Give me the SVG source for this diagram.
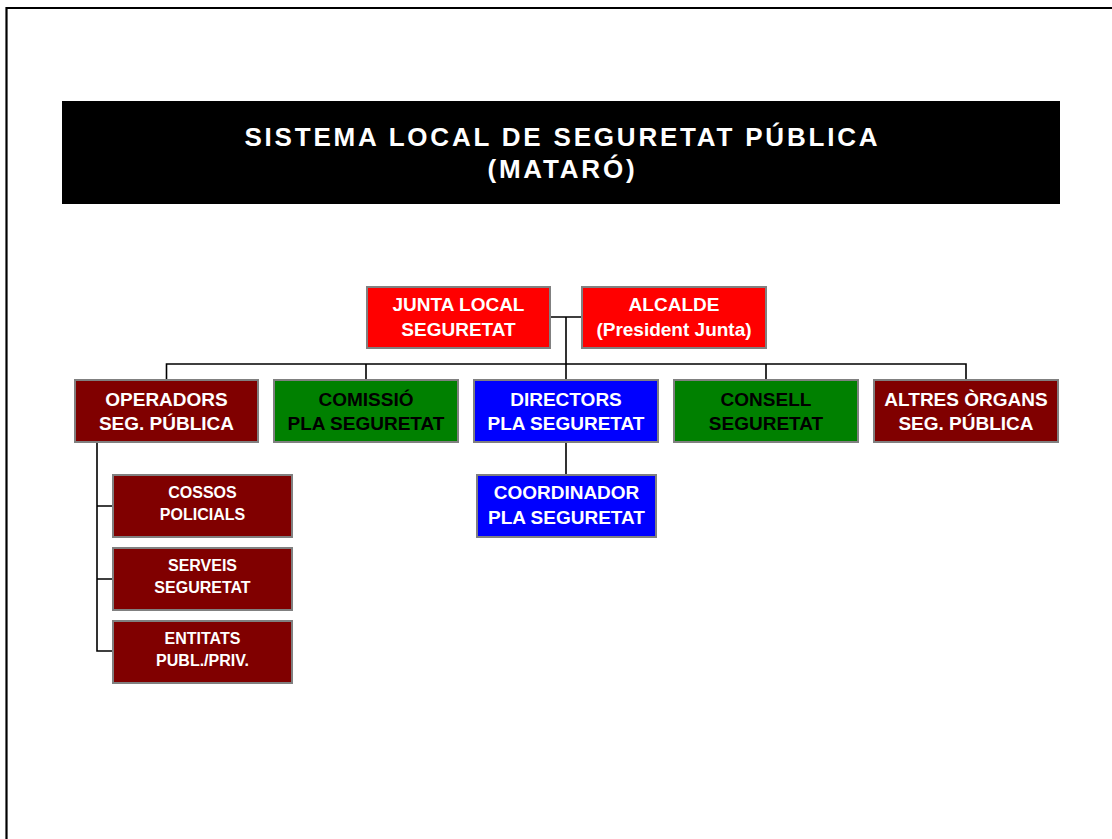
<svg xmlns="http://www.w3.org/2000/svg" width="1112" height="839" viewBox="0 0 1112 839">
<style>
text{font-family:"Liberation Sans",Arial,sans-serif;font-weight:bold;text-anchor:middle}
.box{stroke:#808080;stroke-width:2}
.red{fill:#ff0000}.dred{fill:#800000}.green{fill:#008000}.blue{fill:#0000ff}
.w{fill:#ffffff}.k{fill:#000000}
.t19{font-size:19px}.t16{font-size:16px}
.title{font-size:26px;letter-spacing:2.8px;fill:#ffffff}
.conn{stroke:#000;stroke-width:1.6;fill:none}
</style>
<rect width="1112" height="839" fill="#ffffff"/>
<path d="M6.5 839 V8 H1112" stroke="#000" stroke-width="2.2" fill="none"/>
<g id="title">
<rect x="62" y="101" width="998" height="103" fill="#000"/>
<text class="title" x="562.4" y="146">SISTEMA LOCAL DE SEGURETAT PÚBLICA</text>
<text class="title" x="562.4" y="178">(MATARÓ)</text>
</g>
<g id="connectors">
<path class="conn" d="M550 317 H582 M566 317 V380 M166.5 380 V364 H966 V380 M366 364 V380 M766 364 V380 M566 442 V475 M97 442 V651 H113 M97 506 H113 M97 579 H113"/>
</g>
<g id="junta">
<rect class="box red" x="367" y="287" width="183" height="61"/>
<text class="t19 w" x="458.5" y="311">JUNTA LOCAL</text>
<text class="t19 w" x="458.5" y="336">SEGURETAT</text>
</g>
<g id="alcalde">
<rect class="box red" x="582" y="287" width="184" height="61"/>
<text class="t19 w" x="674" y="311">ALCALDE</text>
<text class="t19 w" x="674" y="336">(President Junta)</text>
</g>
<g id="operadors">
<rect class="box dred" x="75" y="380" width="183" height="62"/>
<text class="t19 w" x="166.5" y="405.5">OPERADORS</text>
<text class="t19 w" x="166.5" y="430">SEG. PÚBLICA</text>
</g>
<g id="comissio">
<rect class="box green" x="274" y="380" width="184" height="62"/>
<text class="t19 k" x="366" y="405.5">COMISSIÓ</text>
<text class="t19 k" x="366" y="430">PLA SEGURETAT</text>
</g>
<g id="directors">
<rect class="box blue" x="474" y="380" width="184" height="62"/>
<text class="t19 w" x="566" y="405.5">DIRECTORS</text>
<text class="t19 w" x="566" y="430">PLA SEGURETAT</text>
</g>
<g id="consell">
<rect class="box green" x="674" y="380" width="184" height="62"/>
<text class="t19 k" x="766" y="405.5">CONSELL</text>
<text class="t19 k" x="766" y="430">SEGURETAT</text>
</g>
<g id="altres">
<rect class="box dred" x="874" y="380" width="184" height="62"/>
<text class="t19 w" x="966" y="405.5">ALTRES ÒRGANS</text>
<text class="t19 w" x="966" y="430">SEG. PÚBLICA</text>
</g>
<g id="coordinador">
<rect class="box blue" x="477" y="475" width="179" height="62"/>
<text class="t19 w" x="566.5" y="499">COORDINADOR</text>
<text class="t19 w" x="566.5" y="523.5">PLA SEGURETAT</text>
</g>
<g id="cossos">
<rect class="box dred" x="113" y="475" width="179" height="62"/>
<text class="t16 w" x="202.5" y="497.7">COSSOS</text>
<text class="t16 w" x="202.5" y="519.5">POLICIALS</text>
</g>
<g id="serveis">
<rect class="box dred" x="113" y="548" width="179" height="62"/>
<text class="t16 w" x="202.5" y="570.7">SERVEIS</text>
<text class="t16 w" x="202.5" y="592.5">SEGURETAT</text>
</g>
<g id="entitats">
<rect class="box dred" x="113" y="621" width="179" height="62"/>
<text class="t16 w" x="202.5" y="643.7">ENTITATS</text>
<text class="t16 w" x="202.5" y="665.5">PUBL./PRIV.</text>
</g>
</svg>
